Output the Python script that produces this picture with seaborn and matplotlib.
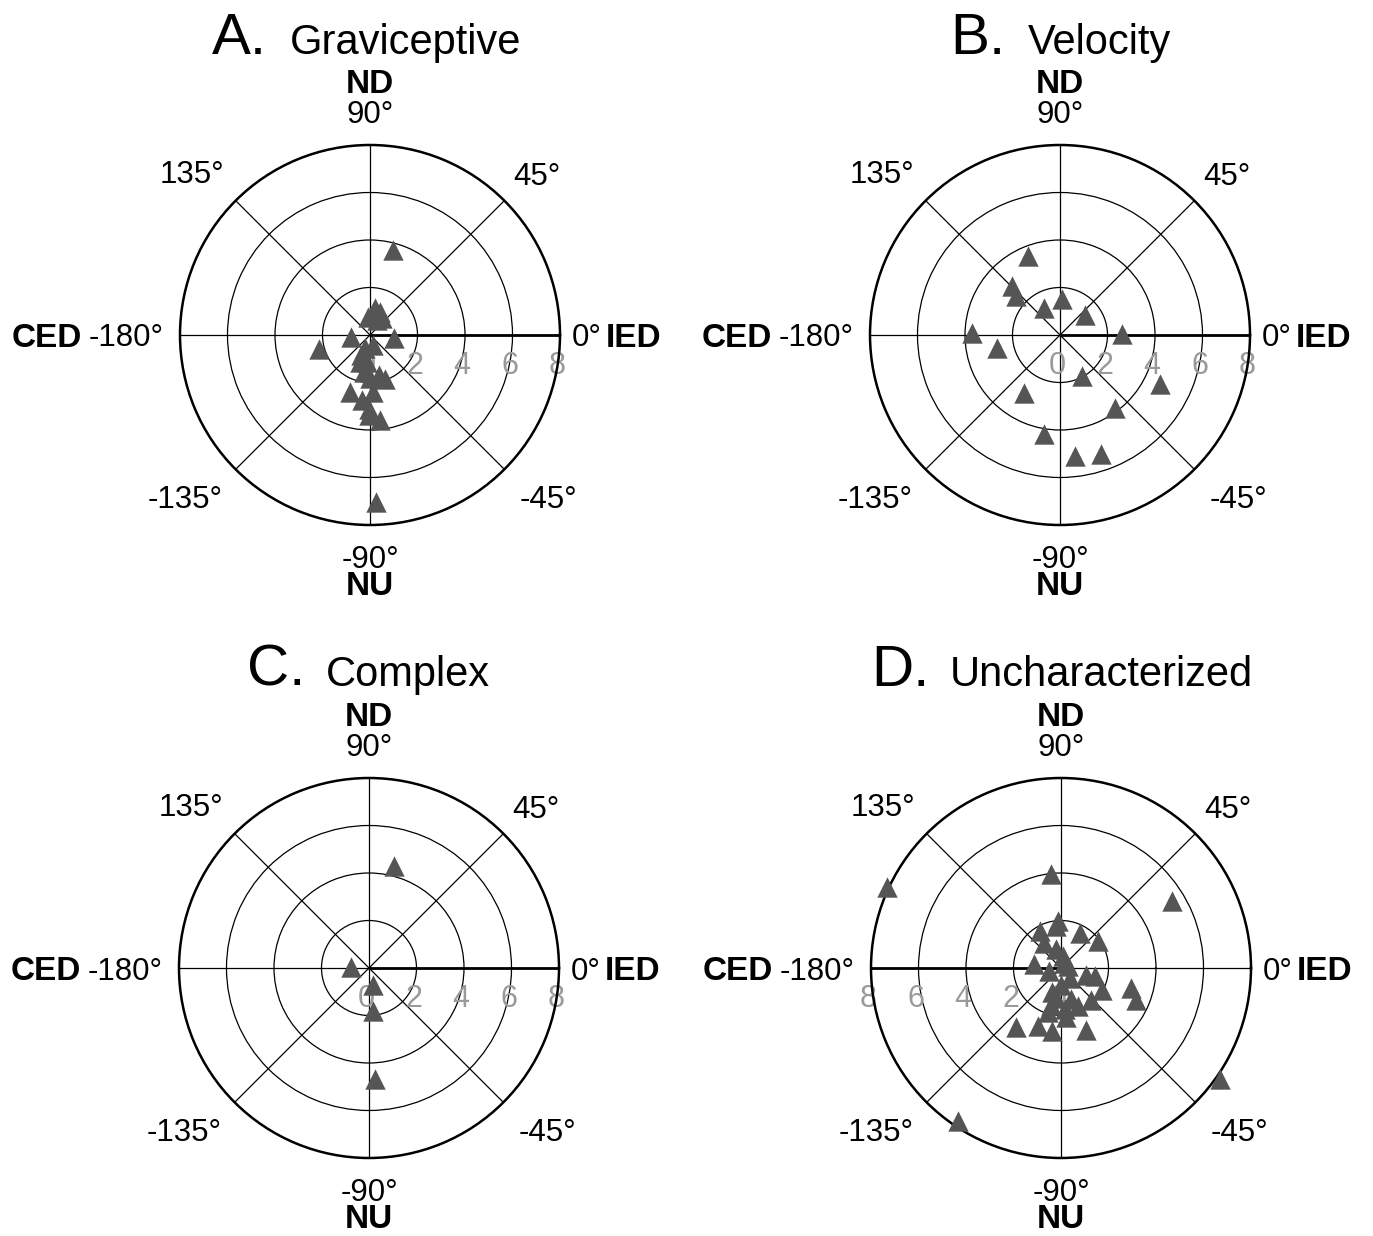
import numpy as np
import matplotlib
matplotlib.use('Agg')
import matplotlib.pyplot as plt
import seaborn as sns
import pandas as pd

# ---------------- data (angle in degrees, magnitude) ----------------
grav_angle = [75, 80, 67, 95, 55, 66, -8, -175, -165, -110, -113, -97, -100, -90,
              -71, -78, -109, -97, -91, -83, -91, -87, -88, -111, -72]
grav_mag = [3.70, 1.15, 1.07, 0.78, 0.86, 0.69, 1.00, 0.81, 2.21, 0.60, 0.92, 1.14, 1.57, 1.83,
            1.94, 1.73, 2.54, 2.77, 3.10, 3.61, 3.38, 2.40, 7.05, 1.20, 0.45]

vel_angle = [112, 134, 139, 120, 86, 38, 1, 179, -168, -62, -26, -122, -53, -99, -83, -71]
vel_mag = [3.57, 2.88, 2.48, 1.33, 1.50, 1.35, 2.60, 3.69, 2.70, 1.95, 4.70, 2.86, 3.87, 4.20, 5.12, 5.29]

comp_angle = [76, 178, -77, -84, -87]
comp_mag = [4.42, 0.75, 0.72, 1.81, 4.69]

unch_angle = [155, 96, 31, -35, -124, 94, 97, 120, 62, 36, 124, 105, 82, 171, -164, 14,
              -15, -14, -28, -16, -23, -47, -66, -110, -105, -85, -84, -127, -112, -98,
              -68, -90, -99, -72, -107, -50, 56]
unch_mag = [8.10, 3.99, 5.44, 8.15, 7.77, 2.00, 1.80, 1.79, 1.69, 1.94, 1.29, 0.81, 0.50, 1.16,
            0.52, 0.29, 1.11, 1.47, 1.95, 3.05, 3.42, 1.87, 1.73, 1.06, 1.63, 1.72, 2.08,
            3.13, 2.64, 2.67, 2.80, 0.71, 1.30, 1.36, 1.94, 0.56, 0.26]

panel_letters = ["A.", "B.", "C.", "D."]
panel_names = ["Graviceptive", "Velocity", "Complex", "Uncharacterized"]
radial_ticks = [0, 2, 4, 6, 8]
angle_ticks = [0, 45, 90, 135, 180, 225, 270, 315]

# ---------------- style ----------------
sns.set_theme(style='white')
plt.rcParams['font.family'] = ['Liberation Sans', 'DejaVu Sans']

W, H = 1373, 1236
fig = plt.figure(figsize=(W / 100, H / 100), dpi=100)
R = 190
MARK = '#555555'

datasets = [(grav_angle, grav_mag), (vel_angle, vel_mag),
            (comp_angle, comp_mag), (unch_angle, unch_mag)]
centers = [(370, 335), (1060, 335), (369, 968), (1061, 968)]
letter_x = [212, 950, 247, 871]
name_x = [290, 1028, 326, 950]
baseline_y = [54, 54, 686, 686]
rlabel_side = [0, 0, 0, 180]

# angle label positions (theta deg, r, text, bold)
angle_labels = [
    (90, 9.42, "90°", False), (90, 10.68, "ND", True),
    (-90, 9.33, "-90°", False), (-90, 10.45, "NU", True),
    (180, 10.27, "-180°", False), (180, 13.6, "CED", True),
    (0, 9.14, "0°", False), (0, 11.1, "IED", True),
    (137.5, 10.18, "135°", False), (44.1, 9.77, "45°", False),
    (-138.8, 10.35, "-135°", False), (-42.3, 10.13, "-45°", False),
]

for i, ((ang, mag), (cx, cy)) in enumerate(zip(datasets, centers)):
    ax = fig.add_axes([(cx - R) / W, 1 - (cy + R) / H, 2 * R / W, 2 * R / H],
                      projection='polar')
    ax.set_facecolor('white')
    ax.set_ylim(0, 8)
    ax.set_yticks([2, 4, 6, 8])
    ax.set_yticklabels([])
    ax.set_xticks(np.deg2rad(angle_ticks))
    ax.set_xticklabels([])
    ax.grid(True, color='black', linewidth=0.9)
    ax.spines['polar'].set_color('black')
    ax.spines['polar'].set_linewidth(1.8)

    side = rlabel_side[i]
    ax.plot([np.deg2rad(side)] * 2, [0, 8], color='black', linewidth=2.0, zorder=1.5)

    for rv in radial_ticks:
        ax.annotate(str(rv), xy=(np.deg2rad(side), rv), xytext=(-2, -19.5),
                    textcoords='offset points', ha='center', va='center_baseline',
                    color='#9a9a9a', fontsize=22, annotation_clip=False, zorder=2)

    df = pd.DataFrame({'theta': np.deg2rad(ang), 'r': mag})
    sns.scatterplot(data=df, x='theta', y='r', ax=ax, marker='^', s=215,
                    color=MARK, linewidth=0, clip_on=False, legend=False, zorder=3)
    ax.set_xlabel('')
    ax.set_ylabel('')

    for th, rr, txt, bold in angle_labels:
        ax.text(np.deg2rad(th), rr, txt, ha='center', va='center_baseline',
                fontsize=24 if bold else 22.5, fontweight='bold' if bold else 'normal',
                color='black', clip_on=False)

    fig.text(letter_x[i] / W, 1 - baseline_y[i] / H, panel_letters[i], fontsize=42,
             ha='left', va='baseline', color='black')
    fig.text(name_x[i] / W, 1 - baseline_y[i] / H, panel_names[i], fontsize=30,
             ha='left', va='baseline', color='black')

fig.savefig('out.png', dpi=100, facecolor='white')
